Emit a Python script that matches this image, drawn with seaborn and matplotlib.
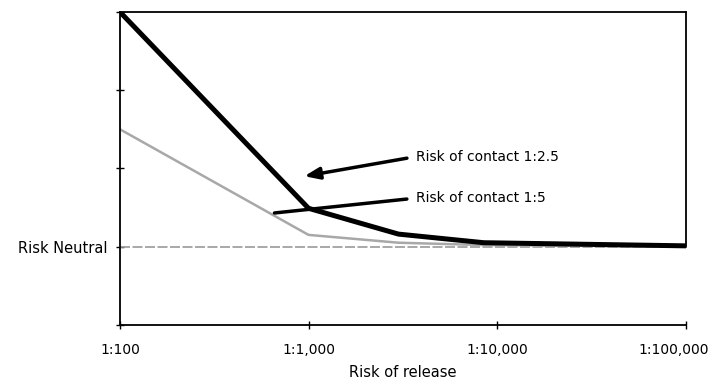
import numpy as np
import pandas as pd
import matplotlib
matplotlib.use("Agg")
import matplotlib.pyplot as plt
import matplotlib.transforms as mtransforms
import seaborn as sns

# risk of release (1 in N) and relative risk level (1 = risk neutral)
release = [100, 1000, 3000, 8500, 100000]
contact_2_5 = [4.0, 1.49, 1.16, 1.05, 1.01]
contact_5 = [2.5, 1.15, 1.05, 1.02, 1.0]
tick_vals = [100, 1000, 10000, 100000]
tick_labels = ["1:100", "1:1,000", "1:10,000", "1:100,000"]

sns.set_style("white")
plt.rcParams['font.family'] = ['DejaVu Sans']
plt.rcParams['text.color'] = 'black'
plt.rcParams['xtick.color'] = 'black'
plt.rcParams['ytick.color'] = 'black'
plt.rcParams['axes.labelcolor'] = 'black'

df = pd.DataFrame({
    'release': release * 2,
    'risk': contact_2_5 + contact_5,
    'series': ['Risk of contact 1:2.5'] * len(release) + ['Risk of contact 1:5'] * len(release),
})

fig = plt.figure(figsize=(7.18, 3.84), dpi=100)
ax = fig.add_axes([0.167, 0.154, 0.788, 0.815])

ax.axhline(1, color='#9a9a9a', lw=1.2, ls=(0, (6, 1.5)), zorder=1)

sns.lineplot(data=df[df.series == 'Risk of contact 1:5'], x='release', y='risk',
             color='#a8a8a8', lw=1.8, ax=ax, legend=False, zorder=2)
sns.lineplot(data=df[df.series == 'Risk of contact 1:2.5'], x='release', y='risk',
             color='black', lw=3.6, ax=ax, legend=False, zorder=3)

ax.set_xscale('log')
ax.set_xlim(100, 100000)
ax.set_ylim(0, 4)
ax.set_xticks(tick_vals)
ax.set_xticklabels(tick_labels, fontsize=10)
ax.xaxis.set_minor_locator(matplotlib.ticker.NullLocator())
ax.set_yticks([0, 1, 2, 3, 4])
ax.set_yticklabels(['', 'Risk Neutral', '', '', ''], fontsize=10.5)
ax.tick_params(axis='both', direction='inout', length=6, width=1, color='black', left=True, bottom=True)
ax.tick_params(axis='x', pad=10)
ax.tick_params(axis='y', pad=6)
ax.set_xlabel('Risk of release', fontsize=10.5, labelpad=6)
ax.set_ylabel('')

# nudge the last tick label so it stays inside the figure
last = ax.get_xticklabels()[-1]
last.set_transform(last.get_transform() + mtransforms.ScaledTranslation(-9 / 72, 0, fig.dpi_scale_trans))

for side in ['left', 'bottom', 'top']:
    ax.spines[side].set_visible(True)
    ax.spines[side].set_color('black')
    ax.spines[side].set_linewidth(1.3)
ax.spines['right'].set_visible(False)
ax.axvline(100000, ymin=0.25, ymax=1, color='black', lw=1.3, clip_on=False)

ax.annotate('Risk of contact 1:2.5', xy=(950, 1.9), xytext=(3700, 2.15),
            fontsize=10, va='center', ha='left',
            arrowprops=dict(arrowstyle='-|>,head_length=0.9,head_width=0.35', color='black', lw=2.5,
                            relpos=(0, 0.5), shrinkA=4, shrinkB=0))
ax.annotate('Risk of contact 1:5', xy=(660, 1.43), xytext=(3700, 1.62),
            fontsize=10, va='center', ha='left',
            arrowprops=dict(arrowstyle='-', color='black', lw=2.5,
                            relpos=(0, 0.5), shrinkA=4, shrinkB=0))

fig.savefig('out.png', dpi=100)
